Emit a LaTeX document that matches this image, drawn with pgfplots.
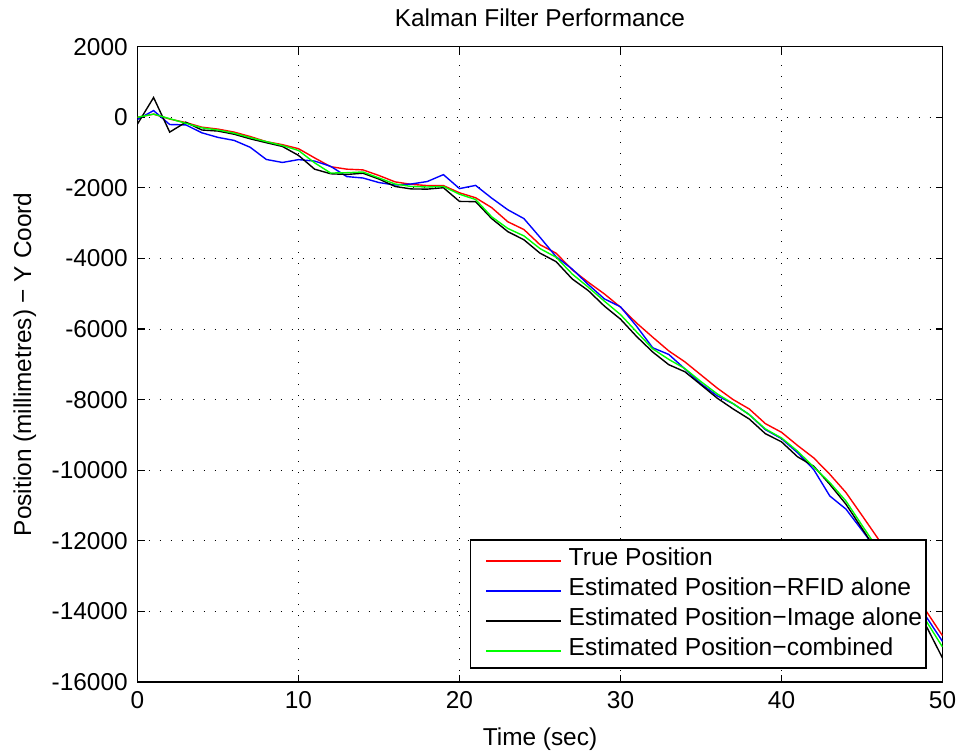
\documentclass[border=0pt]{standalone}
\usepackage{pgfplots}
\pgfplotsset{compat=1.18}
\usepackage{pgfplotstable}
\usepackage{fontspec}
\setmainfont{Liberation Sans}
\pgfplotstableread{
t red blue black green
0 0 -60 -190 0
1 90 190 560 90
2 -50 -205 -420 -40
3 -150 -215 -140 -170
4 -280 -440 -360 -300
5 -335 -570 -390 -360
6 -420 -655 -480 -450
7 -545 -850 -610 -575
8 -690 -1195 -720 -690
9 -775 -1280 -826 -800
10 -890 -1200 -1080 -940
11 -1150 -1240 -1470 -1290
12 -1400 -1390 -1600 -1580
13 -1470 -1680 -1620 -1570
14 -1490 -1720 -1585 -1550
15 -1650 -1850 -1750 -1720
16 -1830 -1920 -1960 -1890
17 -1900 -1890 -2030 -1960
18 -1935 -1820 -2035 -1975
19 -1935 -1625 -1995 -1960
20 -2140 -2020 -2384 -2180
21 -2280 -1930 -2390 -2330
22 -2560 -2290 -2870 -2820
23 -2960 -2620 -3240 -3150
24 -3180 -2870 -3470 -3360
25 -3610 -3400 -3850 -3720
26 -3850 -3950 -4090 -3965
27 -4320 -4300 -4580 -4440
28 -4675 -4740 -4910 -4815
29 -5005 -5145 -5350 -5210
30 -5380 -5370 -5720 -5590
31 -5830 -5920 -6210 -6080
32 -6230 -6530 -6650 -6560
33 -6620 -6720 -7010 -6860
34 -6930 -7130 -7210 -7120
35 -7300 -7550 -7580 -7490
36 -7670 -7890 -7955 -7835
37 -8000 -8115 -8265 -8115
38 -8265 -8425 -8550 -8425
39 -8680 -8850 -8965 -8830
40 -8925 -9105 -9195 -9085
41 -9300 -9505 -9620 -9460
42 -9650 -9980 -9885 -9910
43 -10115 -10730 -10400 -10350
44 -10630 -11100 -10960 -10870
45 -11280 -11700 -11650 -11560
46 -11940 -12310 -12340 -12240
47 -12620 -12930 -13040 -12920
48 -13310 -13540 -13730 -13600
49 -14000 -14159 -14425 -14283
50 -14688 -14850 -15320 -15008
}\data
\begin{document}
\begin{tikzpicture}[font=\fontsize{12.2bp}{14bp}\selectfont]
\path[use as bounding box] (-68.75bp,-35bp) rectangle (411.75bp,341bp);
\begin{axis}[
  at={(0,0)}, anchor=south west,
  scale only axis,
  width=402.5bp, height=317.65bp,
  xmin=0, xmax=50, ymin=-16000, ymax=2000,
  xtick={0,10,...,50},
  ytick={-16000,-14000,...,2000},
  scaled y ticks=false,
  /pgf/number format/assume math mode=true,
  /pgf/number format/1000 sep={},
  tick align=inside,
  major tick length=3.5bp,
  axis line style={line width=0.8bp},
  every tick/.style={black, line width=0.6bp},
  grid=major,
  major grid style={black, line width=0.5bp, dash pattern=on 0.5bp off 5bp},
  xticklabel style={anchor=base, yshift=-13bp},
  yticklabel style={anchor=east, inner xsep=0pt, xshift=-4.7bp},
  every axis title shift=0pt,
  title={Kalman Filter Performance},
  title style={at={(axis description cs:0.5,1.0315)}, anchor=base},
  xlabel={Time (sec)},
  xlabel style={at={(axis description cs:0.5,-0.1007)}, anchor=base},
  ylabel={Position (millimetres) − Y Coord},
  ylabel style={at={(axis description cs:-0.1323,0.5)}, anchor=base, rotate=0},
  legend cell align=left,
  legend image code/.code={\path (0bp,0bp); \path (46.5bp,0bp); \draw[#1] (7.5bp,-0.8bp) -- (45.2bp,-0.8bp);},
  legend style={at={(axis description cs:1,0)}, anchor=south east,
    xshift=-7.75bp, yshift=6.5bp, draw=black, line width=0.8bp, fill=white,
    inner xsep=0bp, inner ysep=2bp, row sep=0pt,
    nodes={inner xsep=2bp, inner ysep=1.5bp, text height=9bp, text depth=3bp},
    font=\fontsize{12.3bp}{14bp}\selectfont},
]
\addplot[red, line width=0.7bp] table[x=t,y=red] {\data};
\addlegendentry{True Position}
\addplot[blue, line width=0.7bp] table[x=t,y=blue] {\data};
\addlegendentry{Estimated Position−RFID alone}
\addplot[black, line width=0.7bp] table[x=t,y=black] {\data};
\addlegendentry{Estimated Position−Image alone}
\addplot[green, line width=0.7bp] table[x=t,y=green] {\data};
\addlegendentry{Estimated Position−combined}
\end{axis}
\end{tikzpicture}
\end{document}
